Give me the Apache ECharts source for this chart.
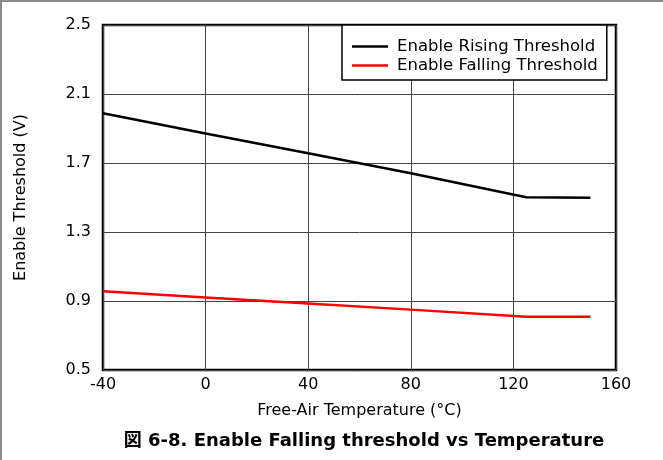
<!DOCTYPE html>
<html>
<head>
<meta charset="utf-8">
<script src="https://cdn.jsdelivr.net/npm/echarts@6/dist/echarts.min.js"></script>
<style>
  html, body { margin: 0; padding: 0; background: #fff; }
  #chart { width: 663px; height: 460px; position: relative; }
  #frame { position: absolute; left: 0; top: 0; width: 663px; height: 460px; box-sizing: border-box;
           border-top: 2px solid #8c8c8c; border-left: 2px solid #8c8c8c; pointer-events: none; }
</style>
</head>
<body>
<div id="chart"></div>
<div id="frame"></div>
<script>
// Data
const temperatures = [-40, 0, 40, 80, 125, 150];
const risingThreshold = [1.988, 1.871, 1.756, 1.641, 1.502, 1.498];
const fallingThreshold = [0.956, 0.920, 0.885, 0.850, 0.808, 0.808];
const seriesNames = ['Enable Rising Threshold', 'Enable Falling Threshold'];
const seriesColors = ['#000000', '#ff0000'];
const xTicks = { min: -40, max: 160, interval: 40 };
const yTicks = { min: 0.5, max: 2.5, interval: 0.4 };
const xAxisTitle = 'Free-Air Temperature (°C)';
const yAxisTitle = 'Enable Threshold (V)';
const figureTitle = '図 6-8. Enable Falling threshold vs Temperature';

const FONT = 'DejaVu Sans, Liberation Sans, Arial, sans-serif';
const pair = (xs, ys) => xs.map((x, i) => [x, ys[i]]);

const chart = echarts.init(document.getElementById('chart'), null, { renderer: 'canvas' });
chart.setOption({
  animation: false,
  backgroundColor: '#fff',
  title: {
    text: figureTitle,
    left: 359,
    top: 427,
    textAlign: 'center',
    textStyle: { fontFamily: FONT + ', Noto Sans CJK JP', fontSize: 18, fontWeight: 'bold', color: '#000' }
  },
  grid: {
    left: 103, right: 47, top: 25, bottom: 90,
    show: true, borderColor: '#000', borderWidth: 2.5, backgroundColor: 'transparent',
    containLabel: false
  },
  legend: {
    orient: 'vertical',
    left: 342, top: 25,
    padding: [12, 9, 5, 10],
    itemGap: 0,
    itemWidth: 36, itemHeight: 2.5,
    backgroundColor: '#fff',
    borderColor: '#000', borderWidth: 1.5,
    textStyle: { fontFamily: FONT, fontSize: 16.5, color: '#000', padding: [0, 0, 0, 4], lineHeight: 19 },
    data: seriesNames.map((n, i) => ({ name: n, icon: 'rect', itemStyle: { color: seriesColors[i] } }))
  },
  xAxis: {
    type: 'value',
    min: xTicks.min, max: xTicks.max, interval: xTicks.interval,
    name: xAxisTitle, nameLocation: 'middle', nameGap: 33,
    nameTextStyle: { fontFamily: FONT, fontSize: 16, color: '#000' },
    axisLine: { show: false },
    axisTick: { show: false },
    axisLabel: { fontFamily: FONT, fontSize: 16, color: '#000', margin: 7 },
    splitLine: { show: true, lineStyle: { color: '#444', width: 1 } }
  },
  yAxis: {
    type: 'value',
    min: yTicks.min, max: yTicks.max, interval: yTicks.interval,
    name: yAxisTitle, nameLocation: 'middle', nameGap: 74,
    nameTextStyle: { fontFamily: FONT, fontSize: 16, color: '#000' },
    axisLine: { show: false },
    axisTick: { show: false },
    axisLabel: { fontFamily: FONT, fontSize: 16, color: '#000', margin: 12,
                 formatter: v => v.toFixed(1) },
    splitLine: { show: true, lineStyle: { color: '#444', width: 1 } }
  },
  series: [
    {
      name: seriesNames[0], type: 'line', data: pair(temperatures, risingThreshold),
      symbol: 'none', lineStyle: { color: seriesColors[0], width: 2.5 }, itemStyle: { color: seriesColors[0] }, z: 3
    },
    {
      name: seriesNames[1], type: 'line', data: pair(temperatures, fallingThreshold),
      symbol: 'none', lineStyle: { color: seriesColors[1], width: 2.5 }, itemStyle: { color: seriesColors[1] }, z: 3
    }
  ]
});
</script>
</body>
</html>
